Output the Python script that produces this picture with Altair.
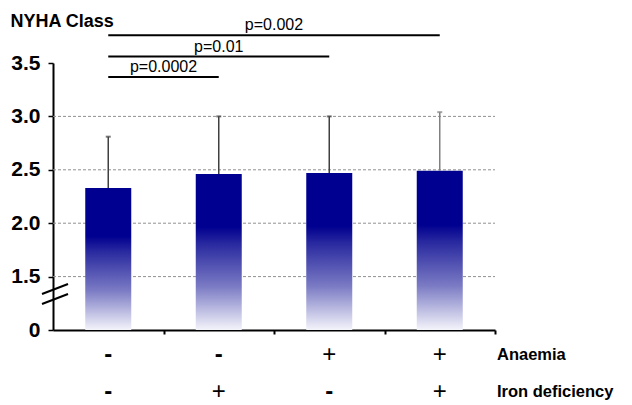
import altair as alt
import numpy as np
import pandas as pd

# ---- data ----
groups = [1, 2, 3, 4]
anaemia = ["-", "-", "+", "+"]
iron_deficiency = ["-", "+", "-", "+"]
nyha_mean = [2.33, 2.46, 2.47, 2.49]
nyha_upper = [2.81, 3.00, 3.00, 3.04]

p_labels = ["p=0.0002", "p=0.01", "p=0.002"]
comp_from = [1, 1, 1]
comp_to = [2, 3, 4]
comp_height = [3.37, 3.56, 3.76]

y_tick_values = [1.0, 1.5, 2.0, 2.5, 3.0, 3.5]
y_tick_labels = ["0", "1.5", "2.0", "2.5", "3.0", "3.5"]
grid_values = [1.5, 2.0, 2.5, 3.0]
row_titles = ["Anaemia", "Iron deficiency"]

# ---- tables ----
pos = {g: i + 0.5 for i, g in enumerate(groups)}
bars = pd.DataFrame({
    "group": groups,
    "pos": [pos[g] for g in groups],
    "mean": nyha_mean,
    "upper": nyha_upper,
    "anaemia": anaemia,
    "iron": iron_deficiency,
})
bars["base"] = y_tick_values[0]
comps = pd.DataFrame({
    "label": p_labels,
    "x1": [pos[g] for g in comp_from],
    "x2": [pos[g] for g in comp_to],
    "h": comp_height,
})
comps["mid"] = (comps["x1"] + comps["x2"]) / 2
grid = pd.DataFrame({"g": grid_values})

W, H = 442, 267
TOP = 55
FONT = "Liberation Sans"

label_expr = " : ".join(
    [f"datum.value == {v} ? '{l}'" for v, l in zip(y_tick_values, y_tick_labels)]
) + " : ''"

x_scale = alt.Scale(domain=[0, len(groups)], nice=False, zero=False, padding=0)
y_scale = alt.Scale(domain=[y_tick_values[0], y_tick_values[-1]], nice=False,
                    zero=False, padding=0)

x_axis = alt.Axis(values=groups, labels=False, title=None, grid=False,
                  tickSize=4, tickWidth=2, tickColor="black",
                  domainColor="black", domainWidth=2)
y_axis = alt.Axis(values=y_tick_values, labelExpr=label_expr, grid=False,
                  title="NYHA Class", titleAngle=0, titleAlign="left",
                  titleBaseline="alphabetic", titleX=-43, titleY=-37,
                  titleFont=FONT, titleFontSize=18, titleFontWeight="bold",
                  titleColor="black",
                  labelFont=FONT, labelFontSize=21, labelFontWeight="bold",
                  labelColor="black", labelPadding=8,
                  tickSize=5, tickWidth=1.5, tickColor="black",
                  domainColor="black", domainWidth=2)

X = lambda f: alt.X(f, type="quantitative", scale=x_scale, axis=x_axis)
Y = lambda f: alt.Y(f, type="quantitative", scale=y_scale, axis=y_axis)

base = alt.Chart(bars)

grid_layer = alt.Chart(grid).mark_rule(
    color="#909090", strokeDash=[3, 2], strokeWidth=1
).encode(x=alt.value(0), x2=alt.value(W), y=Y("g"))

gradient = alt.Gradient(
    gradient="linear",
    stops=[
        alt.GradientStop(color="#000090", offset=0),
        alt.GradientStop(color="#000090", offset=0.34),
        alt.GradientStop(color="#2a2aa0", offset=0.45),
        alt.GradientStop(color="#7a7ac4", offset=0.72),
        alt.GradientStop(color="#f4f4fb", offset=1),
    ],
    x1=0, x2=0, y1=0, y2=1,
)
bar_layer = base.mark_bar(size=46, color=gradient).encode(
    x=X("pos"), y=Y("mean"), y2="base"
)

err_color = alt.condition("datum.group == 4", alt.value("#808080"), alt.value("#404040"))
err_layer = base.mark_rule(strokeWidth=1.5).encode(
    x=X("pos"), y=Y("mean"), y2="upper", color=err_color
)
cap_layer = base.mark_tick(orient="horizontal", size=5, thickness=2).encode(
    x=X("pos"), y=Y("upper"), color=err_color
)

comp_lines = alt.Chart(comps).mark_rule(color="black", strokeWidth=2).encode(
    x=X("x1"), x2="x2", y=Y("h")
)
comp_text = alt.Chart(comps).mark_text(
    font=FONT, fontSize=16, baseline="alphabetic", dy=-5, color="black"
).encode(x=X("mid"), y=Y("h"), text="label:N")

brk = alt.Data(values=[{}])
break1 = alt.Chart(brk).mark_rule(color="black", strokeWidth=2).encode(
    x=alt.value(-11), x2=alt.value(15), y=alt.value(231), y2=alt.value(221))
break2 = alt.Chart(brk).mark_rule(color="black", strokeWidth=2).encode(
    x=alt.value(-11), x2=alt.value(15), y=alt.value(241), y2=alt.value(231))

row_layers = []
for field, ypix, title in [("anaemia", 292, row_titles[0]), ("iron", 329, row_titles[1])]:
    plus = base.transform_filter(f"datum.{field} == '+'").mark_text(
        font=FONT, fontSize=24, baseline="middle", color="black"
    ).encode(x=X("pos"), y=alt.value(ypix), text=f"{field}:N")
    minus = base.transform_filter(f"datum.{field} == '-'").mark_text(
        font=FONT, fontSize=24, fontWeight="bold", baseline="middle", color="black"
    ).encode(x=X("pos"), y=alt.value(ypix), text=f"{field}:N")
    ttl = alt.Chart(pd.DataFrame({"t": [title]})).mark_text(
        font=FONT, fontSize=16.5, fontWeight="bold", align="left",
        baseline="middle", color="black"
    ).encode(x=alt.value(444), y=alt.value(ypix), text="t:N")
    row_layers += [plus, minus, ttl]

chart = alt.layer(
    grid_layer, bar_layer, err_layer, cap_layer, comp_lines, comp_text,
    break1, break2, *row_layers
).properties(
    width=W, height=H,
    autosize=alt.AutoSizeParams(type="none"),
    padding={"left": 45, "top": TOP, "right": 129, "bottom": 397 - TOP - H},
    background="white",
).configure_view(stroke=None)

chart.save("out.html", embed_options={"renderer": "svg", "actions": False})
